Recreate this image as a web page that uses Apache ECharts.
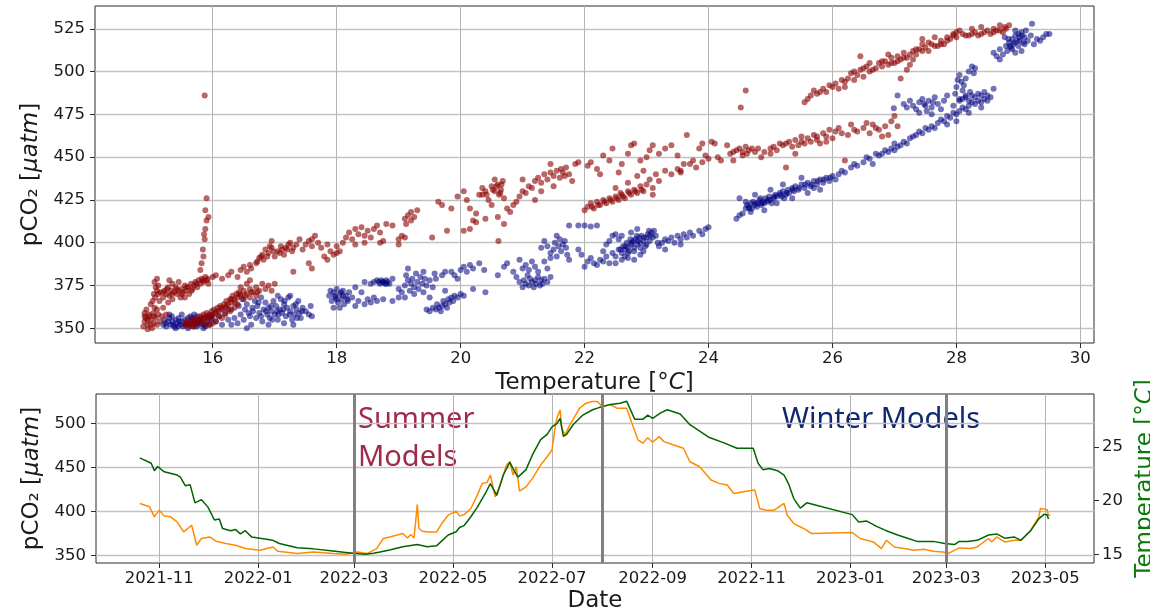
<!DOCTYPE html>
<html>
<head>
<meta charset="utf-8">
<script src="https://cdn.jsdelivr.net/npm/echarts@6/dist/echarts.min.js"></script>
<style>
  html, body { margin: 0; padding: 0; background: #fff; }
  #chart { width: 1150px; height: 612px; }
</style>
</head>
<body>
<div id="chart"></div>
<script>
// Summer-model observations: [temperature °C, pCO2 µatm]
const summerPoints = [
  [14.88,351],[14.9,354],[14.92,356],[14.95,352],[14.97,358],[14.9,359],[14.93,361],[15.0,355],[15.02,350],[15.05,353],
  [14.98,357],[15.04,359],[15.08,356],[15.1,352],[15.12,358],[15.06,362],[15.0,364],[15.03,366],[15.07,368],[15.05,370],
  [15.1,372],[15.08,374],[15.12,375],[15.06,377],[15.1,379],[15.15,371],[15.14,366],[15.18,357],[15.2,362],[14.95,349.5],
  [15.15,354],[15.25,358],[14.9,357],[14.95,355],[15.0,352],[15.05,357],[15.1,361],
  [15.2,368],[15.22,372],[15.25,370],[15.28,374],[15.3,369],[15.33,372],[15.35,367],[15.38,371],[15.4,374],[15.42,370],
  [15.45,372],[15.48,368],[15.5,373],[15.52,371],[15.55,375],[15.57,372],[15.6,374],[15.62,370],[15.65,376],[15.67,373],
  [15.7,375],[15.72,377],[15.75,374],[15.77,378],[15.8,376],[15.82,379],[15.85,377],[15.88,380],[15.9,378],[15.93,376],
  [15.35,376],[15.45,377],[15.55,368],[15.28,365],[15.12,370],[15.3,378],[15.2,371],[15.26,373],[15.34,370],[15.42,373],
  [15.5,370],[15.58,374],[15.66,372],[15.74,376],[15.84,378],[15.92,379],
  [15.8,384],[15.82,388],[15.85,392],[15.84,396],[15.87,402],[15.86,405],[15.88,408],[15.9,413],[15.93,415],[15.88,419],
  [15.9,426],[15.87,486],
  [16.0,380],[16.05,381],[16.15,379],[16.25,381],[16.3,383],[16.4,380],[16.45,384],[16.5,386],[16.55,383],[16.6,387],
  [16.62,385],[16.7,388],[16.75,391],[16.8,393],[16.82,390],[16.85,396],[16.9,394],[16.95,397],[17.0,392],[17.05,395],
  [17.1,398],[17.15,393],[17.2,396],[17.25,400],[17.3,397],[17.35,399],[17.4,402],[17.45,396],[17.5,399],[17.55,401],
  [17.6,398],[17.65,404],[17.7,400],[17.75,397],[17.8,392],[17.85,399],[17.9,395],[17.95,393],[18.0,398],[17.55,388],
  [17.6,385],[17.3,383],[16.95,401],[16.6,378],[18.05,395],[18.1,400],[18.15,403],[18.2,406],[18.25,402],[18.3,408],
  [18.35,405],[18.4,409],[18.45,404],[18.5,407],[18.55,403],[18.6,408],[18.65,410],[18.7,406],[18.75,401],[18.8,411],
  [18.9,410],[18.3,399],[18.45,400],[18.7,400],[17.6,402],[17.85,390],[18.0,394],
  [16.78,392],[16.88,392],[16.98,395],[17.08,394],[17.18,397],[17.28,395],[16.72,389],[16.92,398],[17.12,396],[17.22,399],
  [15.55,352],[15.6,353],[15.62,351],[15.65,355],[15.68,352],[15.7,354],[15.72,356],[15.75,353],[15.78,355],[15.8,357],
  [15.82,354],[15.85,358],[15.88,356],[15.9,359],[15.92,355],[15.95,358],[15.98,360],[16.0,357],[16.02,361],[16.05,359],
  [16.08,362],[16.1,360],[16.12,363],[16.15,361],[16.18,364],[16.2,362],[16.22,366],[16.25,364],[16.28,367],[16.3,365],
  [16.32,369],[16.35,367],[16.38,370],[16.4,368],[16.42,371],[16.45,369],[16.5,372],[16.55,370],[16.6,373],[16.65,371],
  [16.7,374],[16.75,372],[16.8,376],[16.9,375],[17.0,376],[16.28,360],[16.35,362],[16.15,356],[16.05,354],[15.95,352],
  [16.5,367],[16.6,368],[16.45,374],[16.7,369],[16.85,373],[16.55,376],[16.95,372],[15.9,352],[16.0,353],[16.2,358],
  [15.58,354],[15.66,353],[15.74,355],[15.82,356],[15.9,357],[15.98,357],[16.06,360],[16.14,362],[16.22,363],[16.3,367],
  [16.36,365],[16.44,370],[16.52,369],[16.62,371],[16.72,371],[15.7,351],[15.85,353],[16.1,357],[16.25,361],[16.4,364],
  [19.0,402],[19.05,404],[19.1,414],[19.15,416],[19.2,418],[19.25,415],[19.3,419],[19.12,411],[19.2,413],[19.0,399],
  [19.1,403],[19.54,403],[19.78,407],[20.61,401],[19.64,424],[19.7,422],
  [19.85,420],[19.95,427],[20.05,430],[20.1,425],[20.15,420],[20.2,413],[20.25,417],[20.3,428],[20.35,432],[20.4,430],
  [20.45,425],[20.5,433],[20.55,430],[20.6,434],[20.62,428],[20.65,431],[20.68,436],[20.7,426],[20.75,420],[20.8,418],
  [20.85,422],[20.9,424],[20.95,427],[21.0,430],[21.05,429],[21.1,433],[21.15,432],[21.2,436],[21.25,438],[21.3,435],
  [21.35,440],[21.4,437],[21.45,441],[21.5,439],[21.55,442],[21.6,438],[21.65,441],[21.7,444],[21.75,440],[21.8,436],
  [21.85,446],[21.9,447],[20.5,422],[20.6,415],[20.4,414],[20.7,411],[20.35,428],[20.55,437],[21.3,430],[21.2,425],
  [21.0,437],[21.45,446],[21.5,433],[20.25,412],[20.15,408],[20.05,407],
  [20.42,428],[20.52,431],[20.58,433],[20.64,429],[20.66,434],[21.62,443],[21.68,439],
  [22.0,419],[22.05,421],[22.1,423],[22.15,420],[22.2,424],[22.25,422],[22.3,425],[22.35,423],[22.4,426],[22.45,424],
  [22.5,427],[22.55,425],[22.6,428],[22.65,426],[22.7,430],[22.75,428],[22.8,431],[22.85,429],[22.9,433],[22.95,430],
  [23.0,434],[23.05,437],[23.1,432],[23.15,440],[23.2,436],[23.3,442],[23.4,440],[23.5,443],[23.55,441],[23.7,446],
  [23.8,444],[23.9,447],[24.0,449],[22.5,432],[22.7,435],[22.85,439],[23.1,428],[22.95,442],
  [22.12,421],[22.22,422],[22.32,424],[22.42,425],[22.52,426],[22.62,427],[22.72,429],[22.82,430],[22.92,431],[22.58,429],
  [22.05,445],[22.1,447],[22.2,443],[22.3,451],[22.4,448],[22.45,455],[22.6,446],[22.7,452],[22.75,457],[22.8,458],
  [22.9,448],[23.0,450],[23.05,454],[23.1,457],[23.2,452],[23.3,455],[23.4,457],[23.5,451],[23.6,446],[23.65,463],
  [23.75,448],[23.85,455],[23.9,458],[23.95,451],[24.05,459],[24.1,458],[24.15,450],[24.2,448],[24.35,452],[24.4,453],
  [24.45,454],[24.5,455],[24.55,453],[24.6,456],[24.65,454],[24.7,455],[24.52,479],[24.6,489],[24.3,457],[24.4,448],
  [22.25,440],[22.55,441],[23.55,442],
  [24.8,455],[24.9,453],[25.0,452],[25.05,456],[25.1,454],[25.15,458],[25.2,457],[25.25,444],[25.3,459],[25.35,456],
  [25.4,460],[25.45,457],[25.5,462],[25.55,458],[25.6,461],[25.65,459],[25.7,463],[25.75,460],[25.8,458],[25.85,464],
  [25.9,462],[25.95,466],[26.0,461],[26.05,465],[26.1,467],[26.2,448],[26.25,463],[26.3,469],[26.4,465],[26.5,467],
  [26.6,464],[26.65,469],[26.75,466],[26.85,468],[26.9,463],[26.95,471],[27.0,474],[26.8,462],[25.4,452],[24.85,450],
  [25.0,455],[25.25,458],[25.5,459],[25.75,462],[25.9,459],[26.15,464],[26.35,466],[26.55,470],[26.7,467],[27.05,468],
  [24.75,453],[24.55,451],[24.62,452],
  [25.55,482],[25.6,484],[25.7,489],[25.75,487],[25.85,490],[25.9,488],[26.0,491],[26.05,493],[26.1,490],[26.2,494],
  [26.25,496],[26.3,499],[26.35,495],[26.4,498],[26.45,501],[26.5,497],[26.55,503],[26.6,500],[26.7,502],[26.75,505],
  [26.8,503],[26.85,506],[26.9,504],[26.95,508],[27.0,505],[27.05,509],[27.1,507],[27.15,511],[27.2,508],[27.25,504],
  [27.3,512],[27.35,510],[27.4,513],[27.45,516],[27.5,514],[27.55,512],[27.6,516],[27.7,515],[27.75,518],[27.8,516],
  [27.85,520],[27.9,519],[27.95,521],[28.0,520],[28.1,522],[28.2,521],[28.3,523],[28.35,521],[28.4,522],[28.5,524],
  [28.55,522],[28.6,525],[28.65,524],[28.7,527],[28.75,523],[28.8,525],[26.45,509],[27.1,496],[27.2,501],[27.45,519],
  [28.25,525],[28.05,524],[26.9,510],[27.65,520],[27.95,522],
  [25.65,486],[25.8,488],[25.95,492],[26.15,495],[26.2,491],[26.35,500],[26.5,502],[26.6,505],[26.65,501],[26.8,506],
  [26.95,505],[27.05,506],[27.15,508],[27.25,510],[27.35,513],[27.45,512],[27.55,517],[27.65,515],[27.75,516],[27.85,518],
  [28.0,523],[28.15,521],[28.25,522],[28.45,523],[28.6,523],[28.7,524],[28.78,526],[28.85,527],[28.4,526],[27.3,507]
];

// Winter-model observations: [temperature °C, pCO2 µatm]
const winterPoints = [
  [15.2,352],[15.22,355],[15.25,351],[15.28,354],[15.3,356],[15.32,352],[15.35,354],[15.38,351],[15.4,355],[15.42,353],
  [15.45,356],[15.48,352],[15.5,354],[15.52,351],[15.55,355],[15.58,353],[15.6,356],[15.62,352],[15.65,354],[15.68,351],
  [15.7,355],[15.72,353],[15.75,357],[15.78,352],[15.8,355],[15.82,353],[15.85,356],[15.88,351],[15.9,354],[15.93,357],
  [15.95,352],[15.98,355],[16.0,358],[15.3,358],[15.5,358],[15.7,358],[15.4,350],[15.6,350],[15.85,350],
  [15.24,353],[15.36,352],[15.46,354],[15.56,352],[15.66,356],[15.76,354],[15.86,352],[15.96,356],[15.34,357],[15.64,357],
  [15.44,351],[15.74,351],
  [16.05,354],[16.1,357],[16.15,352],[16.2,359],[16.25,355],[16.3,361],[16.35,356],[16.4,353],[16.42,363],[16.45,358],
  [16.5,355],[16.52,361],[16.55,364],[16.6,357],[16.62,352],[16.65,360],[16.7,356],[16.72,363],[16.75,359],[16.8,354],
  [16.82,361],[16.85,365],[16.88,358],[16.9,362],[16.92,356],[16.95,360],[16.98,366],[17.0,358],[17.02,363],[17.05,355],
  [17.08,361],[17.1,367],[17.12,359],[17.15,364],[17.18,357],[17.2,362],[17.22,368],[17.25,360],[17.28,355],[17.3,363],
  [17.32,358],[17.35,361],[17.38,366],[17.4,359],[17.42,356],[17.45,362],[17.5,360],[17.55,358],[17.58,363],[17.6,357],
  [16.48,367],[16.68,366],[17.05,369],[17.25,369],[16.3,352],[16.55,350],[16.9,352],[17.15,353],[17.3,352],[16.78,368],
  [16.58,359],[16.64,362],[16.78,357],[16.86,360],[16.94,363],[17.04,360],[17.14,361],[17.24,358],[17.34,364],[17.44,360],
  [16.96,355],[17.16,366],[16.74,365],[17.06,358],[17.36,356],
  [17.88,369],[17.9,372],[17.92,366],[17.95,371],[17.98,368],[18.0,373],[18.02,365],[18.05,370],[18.08,367],[18.1,372],
  [18.12,364],[18.15,369],[18.18,366],[18.2,371],[18.25,368],[18.3,374],[18.35,366],[18.4,371],[18.45,364],[18.5,367],
  [18.55,365],[18.6,368],[18.65,366],[18.7,376],[18.72,378],[18.75,377],[18.78,376],[18.8,378],[18.82,377],[18.85,376],
  [18.6,377],[18.65,378],[18.55,376],[18.45,377],[18.9,379],[18.05,362],[17.95,362],[18.3,363],[18.75,367],[18.9,366],
  [19.0,368],[17.97,369],[18.07,371],[18.17,367],[18.0,367],[18.1,369],[18.74,377],[18.8,376],[18.68,377],
  [19.05,371],[19.1,375],[19.12,381],[19.15,378],[19.18,372],[19.2,376],[19.22,379],[19.25,374],[19.28,382],[19.3,377],
  [19.32,373],[19.35,380],[19.38,376],[19.4,371],[19.42,379],[19.45,375],[19.5,378],[19.55,374],[19.15,385],[19.4,383],
  [19.0,373],[19.25,370],[19.5,368],[19.58,382],[19.1,368],
  [19.45,361],[19.5,360],[19.55,362],[19.6,361],[19.62,364],[19.65,362],[19.68,360],[19.7,363],[19.72,366],[19.75,364],
  [19.78,362],[19.8,367],[19.82,365],[19.85,368],[19.88,366],[19.9,369],[19.95,368],[20.0,370],[20.05,369],[20.2,373],
  [19.6,379],[19.7,381],[19.75,383],[19.85,383],[19.9,381],[20.0,384],[20.05,386],[20.1,383],[20.15,387],[20.2,385],
  [20.3,388],[20.38,384],[19.95,379],[20.4,371],[19.75,372],
  [20.6,381],[20.7,386],[20.75,388],[20.85,383],[20.9,380],[20.95,377],[21.0,374],[21.02,378],[21.05,376],[21.08,381],
  [21.1,375],[21.12,379],[21.15,377],[21.18,374],[21.2,378],[21.22,376],[21.25,380],[21.28,375],[21.3,378],[21.32,376],
  [21.35,379],[21.4,377],[21.45,380],[21.0,385],[21.05,387],[21.1,384],[21.15,389],[21.2,386],[21.25,383],[20.95,390],
  [21.35,389],[21.45,391],[21.4,385],
  [21.5,396],[21.52,400],[21.55,404],[21.58,398],[21.6,402],[21.62,395],[21.65,399],[21.68,401],[21.7,397],[21.72,393],
  [21.75,390],[21.55,392],[21.45,394],[21.35,401],[21.4,398],[21.3,397],[21.9,396],[21.95,393],
  [21.75,410],[21.9,410],[22.0,410],[22.1,409.5],[22.2,410],
  [22.0,386],[22.05,389],[22.1,391],[22.15,388],[22.2,387],[22.25,390],[22.3,389],[22.35,392],[22.4,388],[22.45,394],
  [22.5,392],[22.55,396],[22.6,394],[22.62,398],[22.65,396],[22.68,400],[22.7,397],[22.72,395],[22.75,399],[22.78,401],
  [22.8,397],[22.82,402],[22.85,399],[22.88,403],[22.9,400],[22.92,404],[22.95,401],[22.98,398],[23.0,403],[23.02,405],
  [23.05,401],[23.08,406],[23.1,403],[23.12,407],[23.15,404],[23.18,400],[22.5,388],[22.6,390],[22.7,391],[22.8,390],
  [22.35,399],[22.4,401],[22.45,404],[22.5,405],[22.55,402],[22.3,395],[22.85,408],[22.65,392],[22.9,393],[22.95,395],
  [22.75,406],[22.6,404],
  [22.66,398],[22.76,400],[22.86,401],[22.96,403],[23.06,404],[22.7,394],[22.8,395],[22.9,397],[23.0,399],[22.58,396],
  [22.74,402],[22.84,404],[23.04,407],
  [23.2,398],[23.25,400],[23.3,402],[23.35,401],[23.4,403],[23.45,400],[23.5,404],[23.55,402],[23.6,405],[23.65,403],
  [23.7,406],[23.75,404],[23.85,407],[23.9,405],[23.95,408],[24.0,409],[23.3,396],[23.55,399],
  [24.45,414],[24.5,416],[24.55,417],[24.6,420],[24.62,422],[24.65,421],[24.68,423],[24.7,420],[24.72,424],[24.75,422],
  [24.78,421],[24.8,423],[24.82,425],[24.85,422],[24.88,424],[24.9,423],[24.92,426],[24.95,424],[24.98,427],[25.0,425],
  [25.05,426],[25.08,428],[25.1,427],[25.15,429],[25.18,427],[25.2,430],[25.25,428],[25.28,431],[25.3,429],[25.35,432],
  [25.38,430],[25.4,433],[25.45,431],[25.5,434],[25.55,432],[25.6,435],[25.65,433],[25.7,436],[25.75,434],[25.8,437],
  [25.85,435],[25.9,438],[25.95,436],[26.0,439],[26.05,437],[26.1,440],[26.15,442],[26.2,441],[24.5,426],[24.68,418],
  [24.9,419],[25.1,423],[25.35,426],[25.6,429],[25.8,431],[24.75,428],[25.0,431],[25.2,434],[25.5,438],[24.6,424],
  [25.7,432],
  [24.66,420],[24.76,423],[24.86,423],[24.96,425],[25.06,427],[25.16,428],[25.26,429],[25.36,431],[25.46,432],[25.56,434],
  [25.66,434],[25.76,436],[25.86,437],[25.96,438],[24.84,426],[25.02,423],[25.22,426],
  [26.3,444],[26.35,446],[26.4,445],[26.5,447],[26.55,450],[26.6,449],[26.7,452],[26.75,451],[26.8,452],[26.85,454],
  [26.9,453],[26.95,455],[27.0,454],[27.05,456],[27.1,457],[27.15,459],[27.2,458],[27.25,461],[27.3,462],[26.65,446],
  [27.0,458],
  [27.35,463],[27.4,465],[27.45,464],[27.5,467],[27.55,466],[27.6,468],[27.65,467],[27.7,470],[27.75,472],[27.8,471],
  [27.85,474],[27.9,473],[27.95,476],[28.0,475],[28.05,477],[28.1,479],[28.15,478],[28.2,480],[28.25,482],[28.3,481],
  [28.35,483],[28.4,482],[28.45,484],[28.5,483],[28.55,485],[27.95,480],[28.05,483],[28.15,485],[28.25,486],[28.35,487],
  [28.45,488],[28.6,490],[27.85,469],[28.0,471],[28.2,476],[28.4,479],
  [27.62,482],[27.48,481],[28.1,484],[28.2,483],[28.3,485],[28.4,486],[28.5,486],
  [27.15,481],[27.2,479],[27.25,483],[27.3,480],[27.35,478],[27.4,482],[27.45,484],[27.5,480],[27.52,477],[27.55,483],
  [27.6,479],[27.65,485],[27.7,481],[27.75,478],[27.8,483],[27.4,476],[27.6,475],[27.05,486],[27.85,486],[26.99,478.5],
  [27.98,487],[28.0,491],[28.02,495],[28.05,498],[28.08,494],[28.1,489],[28.12,492],[28.15,496],[28.2,500],[28.25,503],
  [28.28,499],[28.3,502],[28.22,488],[28.15,486],[28.05,484],
  [28.6,511],[28.65,509],[28.7,513],[28.75,510],[28.8,515],[28.82,512],[28.85,517],[28.88,514],[28.9,519],[28.92,516],
  [28.95,521],[28.98,518],[29.0,515],[29.02,520],[29.05,523],[29.08,517],[29.1,520],[29.12,524],[29.15,518],[29.2,521],
  [29.25,516],[29.3,519],[29.35,518],[29.4,520],[29.45,522],[29.5,522],[29.22,528],[28.78,520],[28.95,524],[29.05,512],
  [28.7,507],[28.95,511],
  [28.86,515],[28.94,517],[29.02,518],[29.06,521],[28.9,513],[29.0,522],[29.1,516],[28.84,519]
];

// Time series: [date, pCO2 µatm]
const pco2Series = [
  ['2021-10-20',409.2],['2021-10-26',405.4],['2021-10-29',394],['2021-11-01',401.6],['2021-11-04',395.1],['2021-11-08',394],
  ['2021-11-12',388.3],['2021-11-16',376.9],['2021-11-21',384.5],['2021-11-24',361.7],['2021-11-27',369.4],['2021-12-02',371.2],
  ['2021-12-06',366.3],['2021-12-12',363.7],['2021-12-18',361.7],['2021-12-24',358],['2022-01-02',356],['2022-01-10',359.8],
  ['2022-01-13',354.9],['2022-01-25',352.3],['2022-02-04',354.1],['2022-02-16',352.3],['2022-02-24',351.5],['2022-03-03',354.1],
  ['2022-03-09',352.3],['2022-03-15',358],['2022-03-19',369.4],['2022-03-23',371.2],['2022-03-27',373.1],['2022-03-31',375.1],
  ['2022-04-03',370],['2022-04-05',373.9],['2022-04-07',370],['2022-04-09',408.1],['2022-04-10',380.8],['2022-04-12',377.7],
  ['2022-04-16',376.9],['2022-04-21',376.9],['2022-04-24',386.4],['2022-04-28',395.9],['2022-05-03',400.5],['2022-05-05',395.1],
  ['2022-05-08',396.7],['2022-05-12',403.5],['2022-05-16',418.7],['2022-05-19',432],['2022-05-22',433.1],['2022-05-24',441.5],
  ['2022-05-27',416.7],['2022-05-30',430.1],['2022-06-03',452.8],['2022-06-05',456.6],['2022-06-07',441.5],['2022-06-09',450.9],
  ['2022-06-11',423.2],['2022-06-15',428.1],['2022-06-19',437.7],['2022-06-24',452.8],['2022-06-28',462.3],['2022-07-01',469.9],
  ['2022-07-03',496.5],['2022-07-04',506],['2022-07-06',515.5],['2022-07-07',494.6],['2022-07-09',487],['2022-07-12',498.4],
  ['2022-07-15',507.9],['2022-07-18',517.4],['2022-07-22',523.1],['2022-07-26',524.9],['2022-07-29',524.9],['2022-08-01',519.2],
  ['2022-08-06',521.2],['2022-08-10',517.4],['2022-08-16',517.4],['2022-08-20',496.5],['2022-08-23',481.3],['2022-08-26',477.6],
  ['2022-08-29',483.9],['2022-09-01',478.7],['2022-09-05',485.1],['2022-09-08',479.4],['2022-09-14',475.6],['2022-09-20',471.9],
  ['2022-09-24',456.6],['2022-09-30',450.9],['2022-10-07',435.8],['2022-10-12',432],['2022-10-17',430.1],['2022-10-21',420.6],
  ['2022-10-27',422.4],['2022-11-03',424.4],['2022-11-06',403.5],['2022-11-10',401.6],['2022-11-15',401.6],['2022-11-21',409.2],
  ['2022-11-23',395.9],['2022-11-27',386.4],['2022-12-03',380.8],['2022-12-08',375.1],['2023-01-02',376.2],['2023-01-07',369.4],
  ['2023-01-15',365.5],['2023-01-20',358],['2023-01-23',367.4],['2023-01-28',359.8],['2023-02-03',358],['2023-02-09',356],
  ['2023-02-15',357.2],['2023-02-21',354.9],['2023-02-27',354.1],['2023-03-02',352.3],['2023-03-09',358.7],['2023-03-16',358],
  ['2023-03-20',359.8],['2023-03-27',369.4],['2023-03-29',365.5],['2023-04-01',371.2],['2023-04-06',365.5],['2023-04-12',367.4],
  ['2023-04-16',367.4],['2023-04-22',378.8],['2023-04-27',394],['2023-04-28',403.5],['2023-05-02',402.4],['2023-05-03',395.9],
  ['2023-05-04',395.9]
];

// Time series: [date, temperature °C]
const tempSeries = [
  ['2021-10-20',24.0],['2021-10-27',23.5],['2021-10-29',22.8],['2021-10-31',23.2],['2021-11-04',22.7],['2021-11-12',22.4],
  ['2021-11-14',22.2],['2021-11-17',21.4],['2021-11-20',21.5],['2021-11-23',19.8],['2021-11-27',20.1],['2021-12-01',19.4],
  ['2021-12-05',18.2],['2021-12-08',18.3],['2021-12-10',17.4],['2021-12-15',17.2],['2021-12-18',17.3],['2021-12-21',16.9],
  ['2021-12-24',17.2],['2021-12-28',16.6],['2022-01-06',16.4],['2022-01-10',16.3],['2022-01-14',16.0],['2022-01-25',15.6],
  ['2022-02-04',15.5],['2022-02-16',15.3],['2022-02-28',15.1],['2022-03-08',15.0],['2022-03-13',15.1],['2022-03-17',15.2],
  ['2022-03-23',15.4],['2022-03-31',15.7],['2022-04-09',15.9],['2022-04-15',15.7],['2022-04-21',15.8],['2022-04-28',16.8],
  ['2022-05-03',17.1],['2022-05-05',17.5],['2022-05-08',17.7],['2022-05-12',18.5],['2022-05-16',19.4],['2022-05-21',20.7],
  ['2022-05-24',21.6],['2022-05-28',20.5],['2022-06-01',22.4],['2022-06-05',23.6],['2022-06-07',23.0],['2022-06-10',22.2],
  ['2022-06-15',22.9],['2022-06-19',24.3],['2022-06-24',25.7],['2022-06-28',26.2],['2022-07-01',26.9],['2022-07-04',27.2],
  ['2022-07-06',27.7],['2022-07-08',26.0],['2022-07-10',26.2],['2022-07-14',27.1],['2022-07-20',28.0],['2022-07-26',28.5],
  ['2022-07-30',28.7],['2022-08-06',29.0],['2022-08-12',29.1],['2022-08-16',29.3],['2022-08-21',27.6],['2022-08-26',27.6],
  ['2022-08-29',28.0],['2022-09-01',27.7],['2022-09-06',28.2],['2022-09-10',28.5],['2022-09-18',28.1],['2022-09-24',27.1],
  ['2022-09-30',26.5],['2022-10-06',25.9],['2022-10-15',25.4],['2022-10-23',24.9],['2022-11-02',24.9],['2022-11-05',23.5],
  ['2022-11-08',22.9],['2022-11-12',23.0],['2022-11-17',22.8],['2022-11-21',22.4],['2022-11-24',21.5],['2022-11-27',20.2],
  ['2022-12-01',19.3],['2022-12-05',19.8],['2023-01-02',18.7],['2023-01-06',18.0],['2023-01-11',18.1],['2023-01-17',17.6],
  ['2023-01-23',17.2],['2023-01-30',16.8],['2023-02-05',16.5],['2023-02-11',16.2],['2023-02-21',16.2],['2023-02-28',16.0],
  ['2023-03-06',15.9],['2023-03-09',16.2],['2023-03-14',16.2],['2023-03-20',16.3],['2023-03-27',16.8],['2023-04-01',16.9],
  ['2023-04-06',16.5],['2023-04-12',16.6],['2023-04-16',16.3],['2023-04-22',17.2],['2023-04-27',18.3],['2023-04-30',18.7],
  ['2023-05-02',18.7],['2023-05-03',18.3]
];

// Axis ticks and model period boundaries
const tempTicks = [16, 18, 20, 22, 24, 26, 28, 30];
const pco2TicksTop = [350, 375, 400, 425, 450, 475, 500, 525];
const pco2TicksBottom = [350, 400, 450, 500];
const tempTicksRight = [15, 20, 25];
const dateTicks = ['2021-11-01','2022-01-01','2022-03-01','2022-05-01','2022-07-01','2022-09-01',
                   '2022-11-01','2023-01-01','2023-03-01','2023-05-01'];
const modelSplits = ['2022-03-01', '2022-08-01', '2023-03-01'];

// Dates are handled as millisecond timestamps on a numeric axis
function toTime(s) {
  const [y, m, d] = s.split('-').map(Number);
  return new Date(y, m - 1, d).getTime();
}
function fmtMonth(v) {
  const d = new Date(v);
  return d.getFullYear() + '-' + String(d.getMonth() + 1).padStart(2, '0');
}

const FONT = 'DejaVu Sans';
const INK = '#1a1a1a';
const SPINE = '#2a2a2a';
const GRIDV = { show: true, lineStyle: { color: '#b4b4b4', width: 1 } };
const GRIDH = { show: true, lineStyle: { color: '#c2c2c2', width: 1.4 } };
const labelStyle = { color: INK, fontFamily: FONT, fontSize: 16.5 };
const tickStyle = { show: true, inside: false, length: 5, lineStyle: { color: SPINE, width: 1 } };
const nameRich = {
  n: { fontFamily: FONT, fontSize: 23, color: INK },
  i: { fontFamily: FONT, fontSize: 23, fontStyle: 'italic', color: INK },
  g: { fontFamily: FONT, fontSize: 23, color: '#0b7a0b' },
  gi: { fontFamily: FONT, fontSize: 23, fontStyle: 'italic', color: '#0b7a0b' }
};

const chart = echarts.init(document.getElementById('chart'), null, { renderer: 'canvas' });

chart.setOption({
  animation: false,
  backgroundColor: '#ffffff',
  grid: [
    { left: 95, top: 6, width: 999, height: 337, outerBoundsMode: 'none', containLabel: false,
      show: true, borderColor: SPINE, borderWidth: 1, backgroundColor: 'transparent' },
    { left: 96, top: 394, width: 998, height: 169, outerBoundsMode: 'none', containLabel: false,
      show: true, borderColor: SPINE, borderWidth: 1, backgroundColor: 'transparent' }
  ],
  xAxis: [
    {
      type: 'value', gridIndex: 0, min: 14.1, max: 30.22,
      axisLine: { show: false },
      axisTick: Object.assign({ customValues: tempTicks }, tickStyle),
      axisLabel: Object.assign({ customValues: tempTicks, margin: 7 }, labelStyle),
      splitLine: GRIDV,
      name: '{n|Temperature [°}{i|C}{n|]}',
      nameLocation: 'middle', nameGap: 29,
      nameTextStyle: { rich: nameRich }
    },
    {
      type: 'value', gridIndex: 1, min: toTime('2021-09-23'), max: toTime('2023-05-31'),
      axisLine: { show: false },
      axisTick: Object.assign({ customValues: dateTicks.map(toTime) }, tickStyle),
      axisLabel: Object.assign({ customValues: dateTicks.map(toTime), margin: 7, formatter: fmtMonth }, labelStyle),
      splitLine: GRIDV,
      name: 'Date', nameLocation: 'middle', nameGap: 27,
      nameTextStyle: { fontFamily: FONT, fontSize: 23, color: INK }
    }
  ],
  yAxis: [
    {
      type: 'value', gridIndex: 0, min: 341.4, max: 538.3,
      axisLine: { show: false },
      axisTick: Object.assign({ customValues: pco2TicksTop }, tickStyle),
      axisLabel: Object.assign({ customValues: pco2TicksTop, margin: 10 }, labelStyle),
      splitLine: GRIDH,
      name: '{n|pCO₂ [}{i|μatm}{n|]}', nameLocation: 'middle', nameRotate: 90, nameGap: 48,
      nameTextStyle: { rich: nameRich }
    },
    {
      type: 'value', gridIndex: 1, min: 341.6, max: 533.5,
      axisLine: { show: false },
      axisTick: Object.assign({ customValues: pco2TicksBottom }, tickStyle),
      axisLabel: Object.assign({ customValues: pco2TicksBottom, margin: 10 }, labelStyle),
      splitLine: GRIDH,
      name: '{n|pCO₂ [}{i|μatm}{n|]}', nameLocation: 'middle', nameRotate: 90, nameGap: 48,
      nameTextStyle: { rich: nameRich }
    },
    {
      type: 'value', gridIndex: 1, position: 'right', min: 14.18, max: 29.97,
      axisLine: { show: false },
      axisTick: Object.assign({ customValues: tempTicksRight }, tickStyle),
      axisLabel: Object.assign({ customValues: tempTicksRight, margin: 8 }, labelStyle),
      splitLine: { show: false },
      name: '{g|Temperature [°}{gi|C}{g|]}', nameLocation: 'middle', nameRotate: 90, nameGap: 34,
      nameTextStyle: { rich: nameRich }
    }
  ],
  series: [
    {
      name: 'Winter', type: 'scatter', xAxisIndex: 0, yAxisIndex: 0,
      data: winterPoints, symbol: 'circle', symbolSize: 6,
      itemStyle: { color: '#000080', opacity: 0.55 }, silent: true
    },
    {
      name: 'Summer', type: 'scatter', xAxisIndex: 0, yAxisIndex: 0,
      data: summerPoints, symbol: 'circle', symbolSize: 6,
      itemStyle: { color: '#8b0000', opacity: 0.6 }, silent: true
    },
    {
      name: 'pCO2', type: 'line', xAxisIndex: 1, yAxisIndex: 1,
      data: pco2Series.map(([d, v]) => [toTime(d), v]),
      showSymbol: false, symbol: 'none', silent: true,
      lineStyle: { color: '#ff8c00', width: 1.5 },
      markLine: {
        silent: true, symbol: ['none', 'none'], label: { show: false },
        lineStyle: { color: '#808080', width: 3, type: 'solid' },
        emphasis: { disabled: true },
        data: modelSplits.map(d => ({ xAxis: toTime(d) }))
      },
      z: 2
    },
    {
      name: 'Temperature', type: 'line', xAxisIndex: 1, yAxisIndex: 2,
      data: tempSeries.map(([d, v]) => [toTime(d), v]),
      showSymbol: false, symbol: 'none', silent: true,
      lineStyle: { color: '#006400', width: 1.5 },
      z: 3
    }
  ],
  graphic: [
    {
      type: 'text', left: 358, top: 401, silent: true,
      style: { text: 'Summer\nModels', font: '29px "Noto Sans"', fill: '#9e2b4b', lineHeight: 38 }
    },
    {
      type: 'text', left: 782, top: 401, silent: true,
      style: { text: 'Winter Models', font: '29px "Noto Sans"', fill: '#10296e', lineHeight: 38 }
    }
  ]
});
</script>
</body>
</html>
